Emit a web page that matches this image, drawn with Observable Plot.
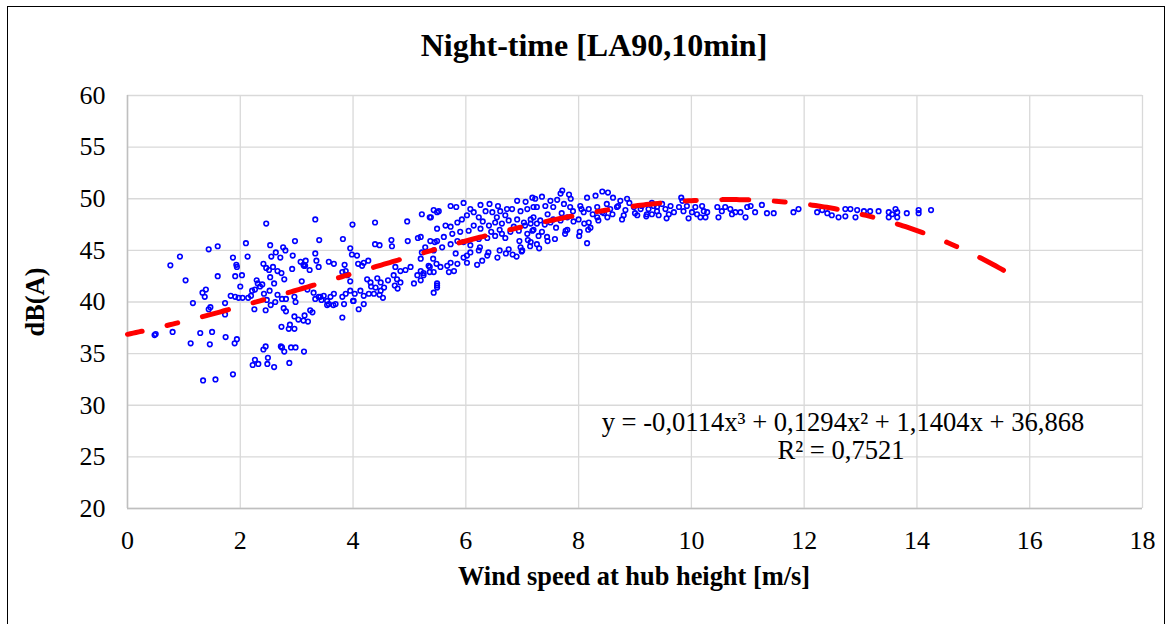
<!DOCTYPE html>
<html><head><meta charset="utf-8">
<script src="https://cdn.jsdelivr.net/npm/d3@7"></script>
<script src="https://cdn.jsdelivr.net/npm/@observablehq/plot@0.6"></script>
<style>
html,body{margin:0;padding:0;background:#fff;}
#wrap{position:relative;width:1172px;height:624px;overflow:hidden;font-family:"Liberation Serif","Times New Roman",serif;color:#000;}
#frame{position:absolute;left:7px;top:6px;width:1158px;height:660px;border:1.5px solid #000;box-sizing:border-box;}
#chart{position:absolute;left:0;top:0;}
.t{position:absolute;white-space:nowrap;line-height:1;}
#title{left:594px;top:29px;transform:translateX(-50%);font-size:32px;font-weight:bold;}
#xlabel{left:634px;top:563px;transform:translateX(-50%);font-size:26.4px;font-weight:bold;}
#ylabel{left:35px;top:302px;transform:translate(-50%,-50%) rotate(-90deg);font-size:26.4px;font-weight:bold;}
#eq{left:843px;top:409px;transform:translateX(-50%);font-size:26.6px;}
#r2{left:841px;top:437px;transform:translateX(-50%);font-size:26.6px;}
</style></head>
<body>
<div id="wrap">
  <div id="frame"></div>
  <div id="chart"></div>
  <div class="t" id="title"></div>
  <div class="t" id="ylabel"></div>
  <div class="t" id="xlabel"></div>
  <div class="t" id="eq"></div>
  <div class="t" id="r2"></div>
</div>
<script>
const titleText = "Night-time [LA90,10min]";
const xLabelText = "Wind speed at hub height [m/s]";
const yLabelText = "dB(A)";
const equationText = "y = -0,0114x³ + 0,1294x² + 1,1404x + 36,868";
const r2Text = "R² = 0,7521";
const xTicks = [0,2,4,6,8,10,12,14,16,18];
const yTicks = [20,25,30,35,40,45,50,55,60];
// trendline: polynomial coefficients shown on the chart (c0 + c1 x + c2 x^2 + c3 x^3)
const trendCoefficients = [36.868, 1.1404, 0.1294, -0.0114];
const trendRange = [0, 15.75];

// [wind speed m/s, dB(A)]
const measurements = [
[0.76,43.55],[0.93,44.4],[1.03,42.1],[1.44,45.1],[1.60,45.4],[1.60,42.5],[1.16,39.9],[1.33,40.9],[1.39,41.2],[1.37,40.5],
[1.44,39.3],[1.47,39.5],[1.73,39.9],[1.73,38.8],[0.48,36.8],[0.50,36.9],[0.80,37.1],[1.12,36.0],[1.29,37.0],[1.46,35.9],
[1.50,37.1],[1.74,36.6],[1.90,36.0],[1.94,36.4],[1.34,32.4],[1.56,32.5],[1.87,33.0],[1.87,44.3],[2.10,45.7],[2.13,44.4],
[1.93,43.6],[1.94,43.4],[1.91,42.5],[2.03,42.6],[2.00,41.5],[1.83,40.6],[1.91,40.5],[1.97,40.4],[2.04,40.4],[2.14,40.4],
[2.25,39.3],[2.29,42.1],[2.31,41.8],[2.35,41.5],[2.39,41.7],[2.21,41.1],[2.26,41.2],[2.19,40.6],[2.42,40.8],[2.47,40.2],
[2.45,39.2],[2.52,41.1],[2.54,39.7],[2.53,45.5],[2.55,44.4],[2.63,44.8],[2.71,44.3],[2.76,45.3],[2.80,45.0],[2.93,44.5],
[2.97,45.9],[2.41,43.7],[2.46,43.3],[2.51,43.1],[2.58,43.4],[2.66,43.0],[2.73,42.8],[2.78,42.2],[2.92,43.2],[3.09,42.0],
[3.12,43.6],[3.15,43.5],[2.53,42.4],[2.60,41.8],[2.66,40.7],[2.74,40.3],[2.81,40.3],[2.62,40.0],[2.77,39.4],[2.81,39.1],
[2.96,40.5],[2.98,40.0],[2.96,38.6],[3.03,38.3],[3.12,38.2],[3.14,38.7],[2.73,37.6],[2.88,37.8],[2.96,37.4],[2.86,37.4],
[2.45,35.7],[2.41,35.4],[2.72,35.7],[2.74,35.6],[2.78,35.2],[2.90,35.6],[2.98,35.6],[3.13,35.2],[2.26,34.4],[2.22,33.9],
[2.32,34.0],[2.49,34.6],[2.48,34.0],[2.60,33.7],[2.87,34.1],[2.46,47.6],
[3.33,48.0],[3.99,47.5],[4.39,47.7],[4.96,47.8],[5.22,48.5],[5.36,48.2],[5.49,48.7],[3.40,46.0],[3.82,46.1],[4.39,45.6],
[4.47,45.5],[4.68,46.0],[4.69,45.4],[4.97,45.9],[5.15,46.2],[5.49,47.1],[5.45,45.8],[3.33,44.7],[3.35,44.0],[3.39,43.4],
[3.23,43.1],[3.07,43.9],[3.16,44.0],[3.13,43.5],[3.57,43.9],[3.66,43.7],[3.95,45.2],[3.98,44.6],[4.07,44.5],[3.85,43.6],
[3.87,43.0],[4.09,43.7],[4.19,43.8],[4.27,44.0],[4.16,43.5],[3.81,42.9],[3.90,42.6],[3.95,42.0],[4.25,42.2],[4.31,41.9],
[4.43,42.3],[4.49,41.9],[4.62,42.1],[4.72,42.6],[4.78,42.2],[4.84,41.9],[4.74,41.6],[4.79,41.3],[4.32,41.5],[4.40,41.4],
[4.49,41.1],[4.55,41.4],[4.75,43.4],[4.84,43.0],[4.93,43.1],[5.02,43.4],[5.14,42.6],[5.20,42.1],[5.08,41.8],[5.25,42.8],
[5.36,43.4],[5.42,44.2],[5.48,43.7],[5.43,42.9],[5.36,42.9],[5.49,41.8],[5.43,40.9],[5.49,41.4],[3.19,41.2],[3.30,40.9],
[3.39,40.5],[3.48,40.6],[3.54,40.1],[3.60,40.5],[3.66,40.8],[3.69,39.8],[3.33,40.3],[3.44,40.2],[3.54,39.7],[3.65,39.7],
[3.42,40.5],[3.57,39.8],[3.81,40.5],[3.87,40.8],[3.95,41.1],[4.01,40.1],[4.03,40.8],[4.13,41.1],[4.19,40.6],[4.28,40.8],
[4.37,40.8],[4.47,40.7],[4.53,40.4],[3.84,39.8],[4.00,40.1],[4.10,39.3],[4.19,39.8],[3.81,38.5],[3.20,38.1],[3.24,39.2],
[3.28,39.0],
[5.73,49.3],[5.83,49.2],[5.96,49.6],[6.08,49.0],[6.26,49.4],[6.42,49.5],[6.57,49.3],[6.73,49.0],[6.91,49.8],[7.06,49.7],
[7.18,50.1],[7.23,50.0],[5.43,48.9],[5.52,48.8],[5.38,48.2],[5.64,47.4],[5.73,47.3],[5.85,47.7],[5.93,48.0],[6.02,48.4],
[6.14,48.7],[6.23,48.2],[6.35,48.8],[6.47,48.7],[6.61,48.8],[6.70,48.4],[6.82,49.0],[6.97,48.8],[7.09,49.0],[7.20,49.2],
[5.61,46.3],[5.76,46.6],[5.90,46.8],[6.05,46.9],[6.14,47.4],[6.26,47.1],[6.41,47.4],[6.52,47.7],[6.64,47.6],[6.76,47.9],
[6.91,48.0],[7.03,47.7],[7.15,48.0],[7.26,47.6],[5.37,45.9],[5.49,45.9],[5.28,45.3],[5.43,45.0],[5.58,45.3],[5.73,45.6],
[5.85,45.9],[5.96,45.8],[6.08,45.5],[6.23,46.1],[6.38,46.2],[6.52,46.4],[6.64,46.6],[6.79,46.8],[6.94,46.9],[7.09,46.6],
[5.82,44.7],[5.96,44.3],[6.08,44.8],[6.23,45.0],[6.38,44.5],[6.56,44.3],[6.76,45.1],[6.97,45.3],[7.15,45.8],[7.26,45.6],
[5.73,43.8],[5.85,43.7],[6.02,43.8],[6.20,43.6],[6.29,44.0],[6.02,44.5],[5.34,43.5],[5.55,43.4],[5.67,43.5],[5.70,42.9],
[5.79,43.0],[5.25,42.6],[5.20,43.0],[5.49,41.6],[5.20,44.2],[5.22,44.8],[5.20,46.3],
[7.71,50.8],[7.68,50.5],[7.83,50.4],[7.86,50.0],[8.15,50.1],[8.30,50.3],[8.42,50.7],[8.52,50.6],[8.61,50.1],[8.74,49.8],
[8.86,50.0],[7.35,50.2],[7.50,49.8],[7.62,49.9],[7.26,49.2],[7.41,49.3],[7.55,49.2],[7.74,49.5],[7.85,49.2],[8.03,49.3],
[8.09,48.7],[8.18,49.0],[8.33,49.2],[8.42,48.7],[8.56,49.0],[8.68,49.2],[8.83,48.9],[8.98,49.2],[9.12,49.3],[9.24,49.0],
[9.39,49.2],[7.20,48.2],[7.32,47.9],[7.50,47.7],[7.68,47.9],[7.80,48.2],[7.91,47.8],[8.18,47.7],[8.33,48.2],[8.51,48.2],
[8.77,48.0],[9.04,48.4],[9.21,48.5],[7.18,46.9],[7.29,46.4],[7.44,46.3],[7.77,46.9],[8.02,46.8],[8.21,47.2],[8.15,45.7],
[7.15,47.6],
[9.82,50.1],[9.84,49.8],[9.33,49.3],[9.39,48.8],[9.48,49.5],[9.54,49.0],[9.60,48.5],[9.63,49.3],[9.69,48.7],[9.78,49.2],
[9.86,48.8],[9.92,49.3],[9.95,48.1],[10.01,48.7],[10.07,49.2],[10.10,48.5],[10.16,48.2],[10.19,49.3],[10.22,48.8],[10.25,48.2],
[10.28,48.7],[9.56,48.1],[9.42,48.4],[9.30,48.5],[10.46,49.2],[10.48,48.2],[10.54,48.8],[10.60,49.2],[10.69,49.0],[10.72,48.5],
[10.78,48.7],[10.87,48.7],[10.96,48.2],[10.99,49.2],[11.05,49.3],[11.13,48.7],[11.25,49.4],[11.34,48.6],[11.46,48.6],[11.81,48.7],
[11.90,49.0],[12.23,48.7],[12.32,48.9],[12.41,48.6],[12.49,48.4],[12.61,48.2],[12.73,48.3],[12.73,49.0],[12.82,49.0],[12.91,48.2],
[12.94,48.9],[13.06,48.8],[13.17,48.8],[13.32,48.8],[13.50,48.7],[13.50,48.2],[13.56,48.5],[13.62,49.0],[13.65,48.7],[13.65,48.2],
[13.82,48.6],[14.03,48.9],[14.03,48.6],[14.25,48.9],
[6.71,44.7],[6.83,44.6],[6.99,44.9],[7.14,45.4],[7.30,45.2],[7.45,45.9],[7.58,46.1],[7.76,46.6],[8.01,46.4],[8.17,47.0],
[6.60,47.0],[6.70,46.2],[6.85,47.3],[6.95,45.9],[7.05,47.4],[7.10,46.0],[7.20,47.0],[7.35,46.8],[7.40,47.5],[7.45,48.5],
[7.55,48.0],[7.60,47.2],[7.70,48.6],[7.80,47.0],[7.90,48.8],[8.00,48.0],[8.05,49.0],[8.10,47.6],[8.25,48.5],[8.35,47.9],
[8.45,48.6],[8.50,49.5],[8.60,48.5],[8.70,49.3],[8.80,48.4],[8.90,49.6],[9.00,48.6],[9.10,49.0],[9.20,48.3],[9.30,49.6],
[6.30,47.8],[6.45,46.8],[6.55,48.2],[6.25,45.3],[6.40,44.8],[6.60,45.0],[6.90,44.4],[7.00,45.0]
];

const poly = x => trendCoefficients.reduce((s, c, i) => s + c * Math.pow(x, i), 0);
const trend = d3.range(trendRange[0], trendRange[1] + 1e-9, 0.05).map(x => ({x, y: poly(x)}));

document.getElementById("title").textContent = titleText;
document.getElementById("xlabel").textContent = xLabelText;
document.getElementById("ylabel").textContent = yLabelText;
document.getElementById("eq").textContent = equationText;
document.getElementById("r2").textContent = r2Text;

const chart = Plot.plot({
  width: 1172, height: 624,
  marginLeft: 127, marginRight: 30, marginTop: 95, marginBottom: 116,
  x: {domain: [0, 18]},
  y: {domain: [20, 60]},
  style: {fontFamily: "'Liberation Serif', 'Times New Roman', serif", fontSize: "26px", color: "#000", background: "transparent", overflow: "visible"},
  marks: [
    Plot.gridX({ticks: xTicks, stroke: "#d9d9d9", strokeOpacity: 1, strokeWidth: 1.3}),
    Plot.gridY({ticks: yTicks, stroke: "#d9d9d9", strokeOpacity: 1, strokeWidth: 1.3}),
    Plot.ruleX([0], {stroke: "#bfbfbf", strokeWidth: 1.5}),
    Plot.ruleY([20], {stroke: "#bfbfbf", strokeWidth: 1.5}),
    Plot.axisX({ticks: xTicks, tickSize: 0, tickPadding: 22, label: null, tickFormat: d => String(d)}),
    Plot.axisY({ticks: yTicks, tickSize: 0, tickPadding: 22, label: null, tickFormat: d => String(d)}),
    Plot.dot(measurements, {x: d => d[0], y: d => d[1], r: 2.3, stroke: "#0000ff", strokeWidth: 1.6, fill: "none"}),
    Plot.line(trend, {x: "x", y: "y", stroke: "#ff0000", strokeWidth: 5, strokeDasharray: "27,25.5,11,25.5", strokeDashoffset: 12, strokeLinecap: "round"})
  ]
});
document.getElementById("chart").appendChild(chart);
</script>
</body></html>
